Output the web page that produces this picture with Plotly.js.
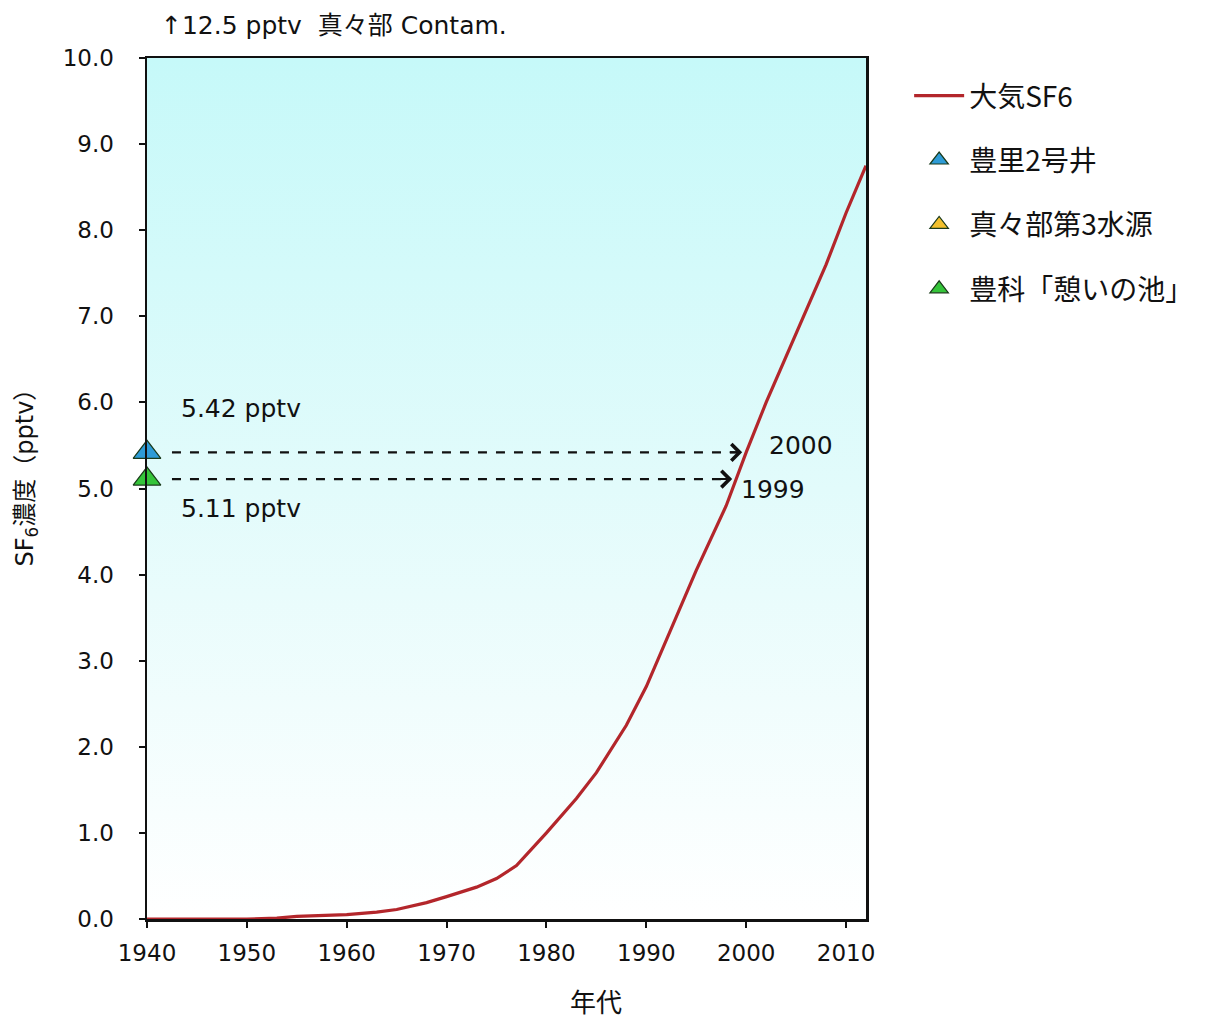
<!DOCTYPE html>
<html>
<head>
<meta charset="utf-8">
<script src="https://cdn.plot.ly/plotly-3.0.1.min.js"></script>
<style>html,body{margin:0;padding:0;background:#fff;}#chart{width:1206px;height:1020px;}</style>
</head>
<body>
<div id="chart"></div>
<script>
// Atmospheric SF6 record
const years = [1940,1945,1950,1953,1955,1960,1963,1965,1968,1970,1973,1975,1977,1980,1983,1985,1988,1990,1993,1995,1998,1999,2000,2002,2005,2008,2010,2012];
const sf6 = [0,0,0,0.01,0.03,0.05,0.08,0.11,0.19,0.26,0.37,0.47,0.62,1.0,1.4,1.7,2.25,2.7,3.5,4.05,4.8,5.11,5.42,6.0,6.8,7.6,8.2,8.75];

// Well samples
const wellNames = ['豊里2号井','真々部第3水源','豊科「憩いの池」'];
const wellValues = [5.42, 12.5, 5.11];
const wellYears = [2000, null, 1999];   // matched atmospheric year
const wellColors = ['#2e9bd6','#f2c02e','#35c43a'];
const wellX = 1940;

const latFont = 'DejaVu Sans, Noto Sans CJK JP, sans-serif';
const jpFont = 'Noto Sans CJK JP, DejaVu Sans, sans-serif';

const traces = [{
  x: years, y: sf6, type: 'scatter', mode: 'lines', name: '大気SF6',
  line: {color: '#b3262b', width: 3.2}, legendgroup: 'g0'
}];
wellNames.forEach((n, i) => {
  traces.push({
    x: [wellX], y: [wellValues[i]], type: 'scatter', mode: 'markers', name: n,
    marker: {symbol: 'triangle-up', size: 24, color: wellColors[i], line: {color: '#1a3a1a', width: 1.2}},
    cliponaxis: wellValues[i] > 10, legendgroup: 'g' + (i + 1)
  });
});

const shapes = [];
const annotations = [];
[0, 2].forEach(i => {
  const yv = wellValues[i];
  const endX = wellYears[i] - 0.6;
  shapes.push({type: 'line', xref: 'x', yref: 'y', x0: 1942.5, x1: endX, y0: yv, y1: yv,
    line: {color: '#111', width: 2.2, dash: 'dash'}});
  annotations.push({x: endX + 0.2, y: yv, xref: 'x', yref: 'y', ax: -14, ay: 0, text: '',
    showarrow: true, arrowhead: 4, arrowsize: 1.6, arrowwidth: 2, arrowcolor: '#111'});
  annotations.push({x: wellYears[i] + (i === 0 ? 2.1 : 0.3), y: yv + (i === 0 ? 0.08 : -0.12), xref: 'x', yref: 'y',
    text: String(wellYears[i]), showarrow: false, xanchor: 'left',
    font: {family: latFont, size: 25, color: '#111'}});
});
annotations.push({x: 1943.2, y: 5.93, xref: 'x', yref: 'y', text: wellValues[0].toFixed(2) + ' pptv',
  showarrow: false, xanchor: 'left', font: {family: latFont, size: 25, color: '#111'}});
annotations.push({x: 1943.2, y: 4.77, xref: 'x', yref: 'y', text: wellValues[2].toFixed(2) + ' pptv',
  showarrow: false, xanchor: 'left', font: {family: latFont, size: 25, color: '#111'}});
annotations.push({x: 1941.2, y: 1.038, xref: 'x', yref: 'paper', yanchor: 'middle',
  text: '↑' + wellValues[1] + ' pptv  真々部 Contam.', showarrow: false, xanchor: 'left',
  font: {family: latFont, size: 25, color: '#111'}});
// axis titles placed as in the reference
annotations.push({x: 1985, y: -0.095, xref: 'x', yref: 'paper', text: '年代', showarrow: false,
  xanchor: 'center', yanchor: 'middle', font: {family: jpFont, size: 26, color: '#111'}});
annotations.push({x: -0.168, y: 0.52, xref: 'paper', yref: 'paper', text: 'SF<sub>6</sub>濃度（pptv）',
  showarrow: false, textangle: -90, xanchor: 'center', yanchor: 'middle',
  font: {family: latFont, size: 24, color: '#111'}});

const gradSvg = '<svg xmlns="http://www.w3.org/2000/svg" width="10" height="100" preserveAspectRatio="none">' +
  '<defs><linearGradient id="g" x1="0" y1="0" x2="0" y2="1">' +
  '<stop offset="0" stop-color="#c6f9f9"/><stop offset="0.5" stop-color="#e2fbfb"/><stop offset="1" stop-color="#ffffff"/>' +
  '</linearGradient></defs><rect width="10" height="100" fill="url(#g)"/></svg>';

const layout = {
  width: 1206, height: 1020,
  margin: {l: 147, r: 340, t: 58, b: 101, autoexpand: false},
  paper_bgcolor: '#ffffff',
  plot_bgcolor: 'rgba(0,0,0,0)',
  showlegend: true,
  legend: {x: 1.06, y: 0.985, xanchor: 'left', yanchor: 'top', traceorder: 'grouped', tracegroupgap: 25,
    font: {family: jpFont, size: 28, color: '#111'}, bgcolor: 'rgba(0,0,0,0)', itemwidth: 50, itemsizing: 'trace'},
  xaxis: {
    range: [1940, 2012], tickvals: [1940,1950,1960,1970,1980,1990,2000,2010],
    showline: true, linecolor: '#111', linewidth: 2.5, mirror: true,
    ticks: 'outside', ticklen: 6, tickwidth: 2, tickcolor: '#111', ticklabelstandoff: 6,
    showgrid: false, zeroline: false,
    tickfont: {family: latFont, size: 23, color: '#111'}
  },
  yaxis: {
    range: [0, 10], dtick: 1, tickformat: '.1f',
    showline: true, linecolor: '#111', linewidth: 2.5, mirror: true,
    ticks: 'outside', ticklen: 6, tickwidth: 2, tickcolor: '#111', ticklabelstandoff: 20,
    showgrid: false, zeroline: false,
    tickfont: {family: latFont, size: 23, color: '#111'}
  },
  images: [{source: 'data:image/svg+xml;charset=utf-8,' + encodeURIComponent(gradSvg),
    xref: 'paper', yref: 'paper', x: 0, y: 1, sizex: 1, sizey: 1, sizing: 'stretch', layer: 'below',
    xanchor: 'left', yanchor: 'top'}],
  shapes: shapes,
  annotations: annotations
};

Plotly.newPlot('chart', traces, layout, {displayModeBar: false, staticPlot: true});
</script>
</body>
</html>
